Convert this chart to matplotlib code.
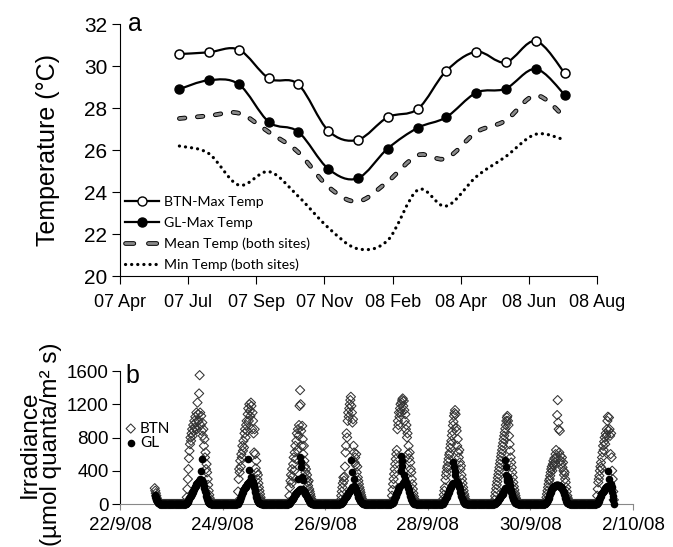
import numpy as np
import matplotlib
matplotlib.use("Agg")
import matplotlib.pyplot as plt
import matplotlib.dates as mdates
from matplotlib import font_manager
from matplotlib.path import Path
from matplotlib.patches import PathPatch
from matplotlib.lines import Line2D
from matplotlib.legend_handler import HandlerTuple

plt.rcParams['font.family'] = ['Liberation Sans', 'DejaVu Sans']
plt.rcParams['lines.scale_dashes'] = False

# ---- panel a: monthly temperatures ----
month_dates = ['2007-06-28', '2007-07-28', '2007-08-28', '2007-09-28', '2007-10-28',
               '2007-11-28', '2007-12-28', '2008-01-28', '2008-02-28', '2008-03-28',
               '2008-04-28', '2008-05-28', '2008-06-28', '2008-07-28']
btn_max = [30.57, 30.65, 30.78, 29.41, 29.13, 26.92, 26.48, 27.56, 27.96, 29.76,
           30.68, 30.17, 31.19, 29.65]
gl_max = [28.90, 29.32, 29.13, 27.33, 26.87, 25.10, 24.65, 26.07, 27.06, 27.56,
          28.73, 28.92, 29.86, 28.62]
mean_temp = [27.50, 27.63, 27.75, 26.85, 25.90, 24.25, 23.55, 24.50, 25.75, 25.60,
             26.85, 27.40, 28.60, 27.55]
min_temp = [26.19, 25.84, 24.33, 24.97, 23.80, 22.30, 21.30, 21.70, 24.10, 23.33,
            24.73, 25.68, 26.75, 26.48]
a_ticks = ['2007-04-28', '2007-07-07', '2007-09-15', '2007-11-24', '2008-02-02',
           '2008-04-12', '2008-06-21', '2008-08-30']

# ---- panel b: irradiance logger, 15 min readings ----
log_start = '2008-09-22T16:15'
log_end = '2008-10-01T15:00'
# first reading of each daylight block (night readings are 0)
day_starts = ['2008-09-22T16:15', '2008-09-23T07:00', '2008-09-24T07:00', '2008-09-25T07:00',
              '2008-09-26T07:00', '2008-09-27T07:00', '2008-09-28T07:00', '2008-09-29T07:00',
              '2008-09-30T07:00', '2008-10-01T07:00']

btn_22 = [190, 160, 130, 100, 70, 50, 30, 20, 10, 5, 2, 0]
btn_23 = [20, 80, 180, 300, 420, 550, 640, 720, 800, 760, 850, 900,
          820, 950, 880, 1000, 920, 1050, 980, 1100, 900, 1220, 1080, 1000,
          1330, 1550, 1100, 950, 1060, 880, 980, 820, 900, 700, 780, 560,
          620, 420, 480, 380, 300, 230, 160, 110, 70, 40, 20, 10, 0]
btn_24 = [30, 150, 300, 420, 380, 520, 450, 600, 560, 700, 640, 760,
          680, 850, 900, 800, 950, 1000, 880, 1080, 1150, 1000, 1200, 1120,
          1060, 1220, 1180, 900, 1100, 1000, 850, 620, 900, 600, 430, 520,
          380, 300, 350, 250, 200, 160, 120, 80, 50, 30, 15, 5, 0]
btn_25 = [20, 100, 200, 280, 350, 250, 420, 330, 480, 560, 400, 620,
          700, 540, 760, 850, 650, 900, 820, 950, 1180, 1370, 1200, 880,
          700, 940, 780, 600, 700, 520, 450, 380, 420, 300, 350, 260,
          220, 280, 180, 150, 120, 90, 60, 40, 25, 15, 8, 3, 0]
btn_26 = [10, 50, 100, 150, 200, 250, 320, 280, 330, 450, 620, 700,
          850, 800, 1000, 1100, 1050, 1150, 1200, 1250, 1290, 1180, 1100, 980,
          1020, 700, 620, 500, 560, 470, 600, 380, 450, 320, 280, 240,
          200, 170, 140, 110, 85, 60, 45, 30, 20, 12, 6, 2, 0]
btn_27 = [30, 100, 170, 240, 300, 360, 420, 480, 540, 600, 650, 900,
          1000, 950, 1100, 1050, 1150, 1200, 1100, 1220, 1250, 1270, 1180, 1240,
          1130, 1000, 1080, 900, 950, 800, 850, 600, 700, 550, 620, 500,
          420, 380, 300, 240, 180, 130, 90, 60, 35, 20, 10, 4, 0]
btn_28 = [20, 60, 110, 160, 200, 290, 345, 385, 430, 455, 505, 545,
          590, 615, 675, 720, 760, 825, 875, 945, 990, 1060, 1095, 1130,
          1080, 920, 880, 700, 780, 620, 560, 650, 500, 420, 460, 350,
          300, 250, 200, 160, 120, 90, 60, 40, 25, 15, 8, 3, 0]
btn_29 = [0, 50, 95, 140, 185, 230, 270, 315, 355, 400, 440, 485,
          525, 570, 610, 650, 695, 735, 780, 820, 860, 905, 950, 1000,
          1040, 1060, 1000, 950, 820, 720, 640, 560, 500, 440, 380, 320,
          260, 210, 170, 130, 100, 70, 50, 30, 18, 10, 5, 2, 0]
btn_30 = [10, 40, 80, 120, 160, 200, 240, 280, 300, 340, 380, 420,
          450, 400, 480, 520, 460, 550, 500, 600, 650, 560, 1070, 1250,
          980, 900, 620, 880, 580, 520, 480, 560, 440, 500, 400, 350,
          380, 300, 260, 200, 150, 100, 70, 45, 25, 15, 8, 3, 0]
btn_01 = [20, 100, 180, 260, 300, 340, 400, 450, 500, 430, 560, 620,
          700, 650, 750, 800, 720, 850, 820, 900, 1000, 1050, 880, 1040,
          900, 820, 600, 850, 560, 400, 300, 150, 50]

gl_22 = [110, 95, 80, 65, 50, 35, 25, 15, 8, 4, 2, 0]
gl_23 = [5, 10, 20, 30, 40, 55, 70, 85, 100, 110, 125, 140,
         150, 160, 175, 185, 200, 210, 220, 235, 245, 255, 265, 275,
         280, 300, 290, 280, 400, 285, 540, 270, 250, 220, 190, 160,
         130, 100, 75, 55, 40, 28, 18, 12, 8, 5, 3, 1, 0]
gl_24 = [5, 10, 20, 35, 50, 65, 80, 100, 120, 135, 150, 165,
         180, 190, 200, 210, 220, 230, 240, 250, 540, 410, 260, 270,
         280, 300, 330, 290, 270, 250, 230, 200, 170, 140, 110, 90,
         70, 50, 35, 25, 18, 12, 8, 5, 3, 2, 1, 0, 0]
gl_25 = [5, 10, 15, 25, 35, 45, 55, 65, 75, 85, 95, 105,
         115, 125, 135, 145, 150, 160, 300, 170, 180, 560, 500, 450,
         330, 180, 290, 170, 160, 150, 140, 125, 110, 95, 80, 65,
         55, 45, 35, 25, 18, 12, 8, 5, 3, 2, 1, 0, 0]
gl_26 = [3, 6, 10, 15, 20, 30, 40, 50, 60, 70, 80, 90,
         100, 110, 120, 130, 140, 150, 160, 170, 180, 530, 380, 200,
         210, 220, 300, 200, 190, 180, 170, 150, 130, 110, 90, 75,
         60, 45, 35, 25, 18, 12, 8, 5, 3, 2, 1, 0, 0]
gl_27 = [5, 10, 18, 28, 40, 55, 70, 85, 100, 115, 130, 145,
         160, 175, 190, 205, 220, 400, 580, 520, 460, 240, 250, 260,
         350, 270, 300, 260, 250, 230, 210, 190, 170, 145, 120, 100,
         80, 60, 45, 32, 22, 15, 10, 6, 3, 2, 1, 0, 0]
gl_28 = [5, 12, 20, 30, 45, 60, 75, 90, 105, 120, 135, 150,
         165, 180, 195, 210, 220, 230, 240, 250, 500, 450, 400, 350,
         260, 270, 280, 260, 250, 240, 220, 200, 180, 150, 120, 95,
         70, 50, 35, 25, 16, 10, 6, 4, 2, 1, 0, 0, 0]
gl_29 = [3, 6, 10, 15, 20, 25, 30, 38, 45, 55, 65, 75,
         85, 95, 105, 115, 125, 140, 155, 170, 190, 530, 450, 350,
         280, 300, 320, 290, 260, 230, 200, 170, 140, 115, 95, 75,
         60, 45, 35, 25, 18, 12, 8, 5, 3, 2, 1, 0, 0]
gl_30 = [5, 12, 20, 30, 45, 60, 75, 95, 115, 135, 150, 165,
         180, 190, 200, 205, 210, 215, 220, 225, 225, 230, 230, 225,
         225, 220, 220, 215, 210, 205, 200, 190, 175, 160, 140, 120,
         95, 75, 55, 40, 28, 18, 12, 7, 4, 2, 1, 0, 0]
gl_01 = [5, 10, 18, 28, 40, 55, 70, 85, 100, 115, 130, 140,
         150, 160, 170, 180, 190, 195, 200, 210, 215, 220, 400, 300,
         230, 220, 240, 210, 200, 150, 100, 50, 0]

btn_days = [btn_22, btn_23, btn_24, btn_25, btn_26, btn_27, btn_28, btn_29, btn_30, btn_01]
gl_days = [gl_22, gl_23, gl_24, gl_25, gl_26, gl_27, gl_28, gl_29, gl_30, gl_01]
b_ticks = ['2008-09-22', '2008-09-24', '2008-09-26', '2008-09-28', '2008-09-30', '2008-10-02']
b_tick_labels = ['22/9/08', '24/9/08', '26/9/08', '28/9/08', '30/9/08', '2/10/08']


def smooth_path(x, y):
    """Excel-like smoothed line (Catmull-Rom as cubic Bezier)"""
    pts = np.column_stack([x, y])
    ext = np.vstack([pts[0], pts, pts[-1]])
    verts = [pts[0]]
    codes = [Path.MOVETO]
    for i in range(len(pts) - 1):
        p0, p1, p2, p3 = ext[i], ext[i + 1], ext[i + 2], ext[i + 3]
        verts += [p1 + (p2 - p0) / 6, p2 - (p3 - p1) / 6, p2]
        codes += [Path.CURVE4] * 3
    return Path(verts, codes)


def add_smooth(ax, x, y, **kw):
    cap = kw.pop('capstyle', 'butt')
    patch = PathPatch(smooth_path(x, y), fill=False, **kw)
    patch.set_capstyle(cap)
    ax.add_patch(patch)


# narrow font for the legend of panel a, if there is one
installed = {f.name for f in font_manager.fontManager.ttflist}
if 'Liberation Sans Narrow' in installed:
    leg_a_font = {'family': 'Liberation Sans Narrow', 'size': 11}
else:
    leg_a_font = {'family': 'Lato', 'size': 10.2}

fig = plt.figure(figsize=(6.73, 5.47), dpi=100)

# ---------------- panel a ----------------
ax_a = fig.add_axes([0.1783, 0.4954, 0.7088, 0.4607])
xa = mdates.date2num(np.array(month_dates, dtype='datetime64[D]'))

min_dash = (0, (0.1, 4.3))
mean_dash = (0, (4.0, 9.0))
add_smooth(ax_a, xa, min_temp, edgecolor='black', lw=2.3, linestyle=min_dash,
           capstyle='round', zorder=2)
add_smooth(ax_a, xa, mean_temp, edgecolor='black', lw=3.4, linestyle=mean_dash,
           capstyle='round', zorder=2)
add_smooth(ax_a, xa, mean_temp, edgecolor='#8a8a8a', lw=2.0, linestyle=mean_dash,
           capstyle='round', zorder=2.1)
add_smooth(ax_a, xa, gl_max, edgecolor='black', lw=1.6, zorder=2)
add_smooth(ax_a, xa, btn_max, edgecolor='black', lw=1.6, zorder=2)
ax_a.plot(xa, gl_max, 'o', ms=6.5, mfc='black', mec='black', mew=1.0, zorder=3)
ax_a.plot(xa, btn_max, 'o', ms=6.5, mfc='white', mec='black', mew=1.1, zorder=3)

ta = mdates.date2num(np.array(a_ticks, dtype='datetime64[D]'))
ax_a.set_xlim(ta[0], ta[-1])
ax_a.set_ylim(20, 32)
ax_a.set_xticks(ta)
ax_a.xaxis.set_major_formatter(mdates.DateFormatter('%y %b'))
ax_a.set_yticks(np.arange(20, 33, 2))
ax_a.tick_params(axis='x', labelsize=13, direction='out', length=6, pad=7)
ax_a.tick_params(axis='y', labelsize=15, direction='out', length=6, pad=3)
for s in ['top', 'right']:
    ax_a.spines[s].set_visible(False)
ax_a.set_ylabel('Temperature (°C)', fontsize=18)
ax_a.yaxis.set_label_coords(-0.125, 0.5)
ax_a.text(0.016, 1.0, 'a', transform=ax_a.transAxes, fontsize=18, va='center', ha='left')

h_btn = Line2D([], [], color='black', lw=1.6, marker='o', ms=6.5, mfc='white', mec='black')
h_gl = Line2D([], [], color='black', lw=1.6, marker='o', ms=6.5, mfc='black', mec='black')
h_mean = (Line2D([], [], color='black', lw=3.4, ls=(0, (6.0, 10.5)), dash_capstyle='round'),
          Line2D([], [], color='#8a8a8a', lw=2.0, ls=(0, (6.0, 10.5)), dash_capstyle='round'))
h_min = Line2D([], [], color='black', lw=2.3, ls=min_dash, dash_capstyle='round')
ax_a.legend([h_btn, h_gl, h_mean, h_min],
            ['BTN-Max Temp', 'GL-Max Temp', 'Mean Temp (both sites)', 'Min Temp (both sites)'],
            handler_map={tuple: HandlerTuple(ndivide=1)},
            loc='lower left', bbox_to_anchor=(0.01, 0.02), frameon=False,
            prop=leg_a_font, handlelength=2.4, handletextpad=0.4,
            labelspacing=0.6, borderpad=0, borderaxespad=0, numpoints=1)

# ---------------- panel b ----------------
ax_b = fig.add_axes([0.1783, 0.0786, 0.7623, 0.2431])
step = np.timedelta64(15, 'm')
times = np.arange(np.datetime64(log_start), np.datetime64(log_end) + step, step)
btn = np.zeros(len(times))
gl = np.zeros(len(times))
for start, bv, gv in zip(day_starts, btn_days, gl_days):
    i = int((np.datetime64(start) - times[0]) // step)
    btn[i:i + len(bv)] = bv
    gl[i:i + len(gv)] = gv
xb = mdates.date2num(times)

ax_b.scatter(xb, btn, marker='D', s=22, facecolors='none', edgecolors='#333333',
             linewidths=0.75, clip_on=False, zorder=3, label='BTN')
ax_b.scatter(xb, gl, marker='o', s=30, c='black', linewidths=0, clip_on=False,
             zorder=4, label='GL')

tb = mdates.date2num(np.array(b_ticks, dtype='datetime64[D]'))
ax_b.set_xlim(tb[0], tb[-1])
ax_b.set_ylim(0, 1600)
ax_b.set_xticks(tb)
ax_b.set_xticklabels(b_tick_labels)
ax_b.set_yticks([0, 400, 800, 1200, 1600])
ax_b.tick_params(axis='x', labelsize=13.5, direction='out', length=4, pad=5, color='#888888')
ax_b.tick_params(axis='y', labelsize=13.5, direction='out', length=6, pad=2)
for s in ['top', 'right']:
    ax_b.spines[s].set_visible(False)
ax_b.spines['bottom'].set_color('#888888')
ax_b.set_ylabel('Irradiance\n(µmol quanta/m² s)', fontsize=17.5, linespacing=0.95)
ax_b.yaxis.set_label_coords(-0.113, 0.45)
ax_b.text(0.01, 0.96, 'b', transform=ax_b.transAxes, fontsize=18, va='center', ha='left')
ax_b.legend(loc='upper left', bbox_to_anchor=(0.012, 0.62), frameon=False,
            prop={'family': 'Lato', 'size': 11}, handlelength=0.6, handletextpad=0.3,
            labelspacing=0.05, borderpad=0, borderaxespad=0, scatterpoints=1)

fig.savefig('out.png', dpi=100)
